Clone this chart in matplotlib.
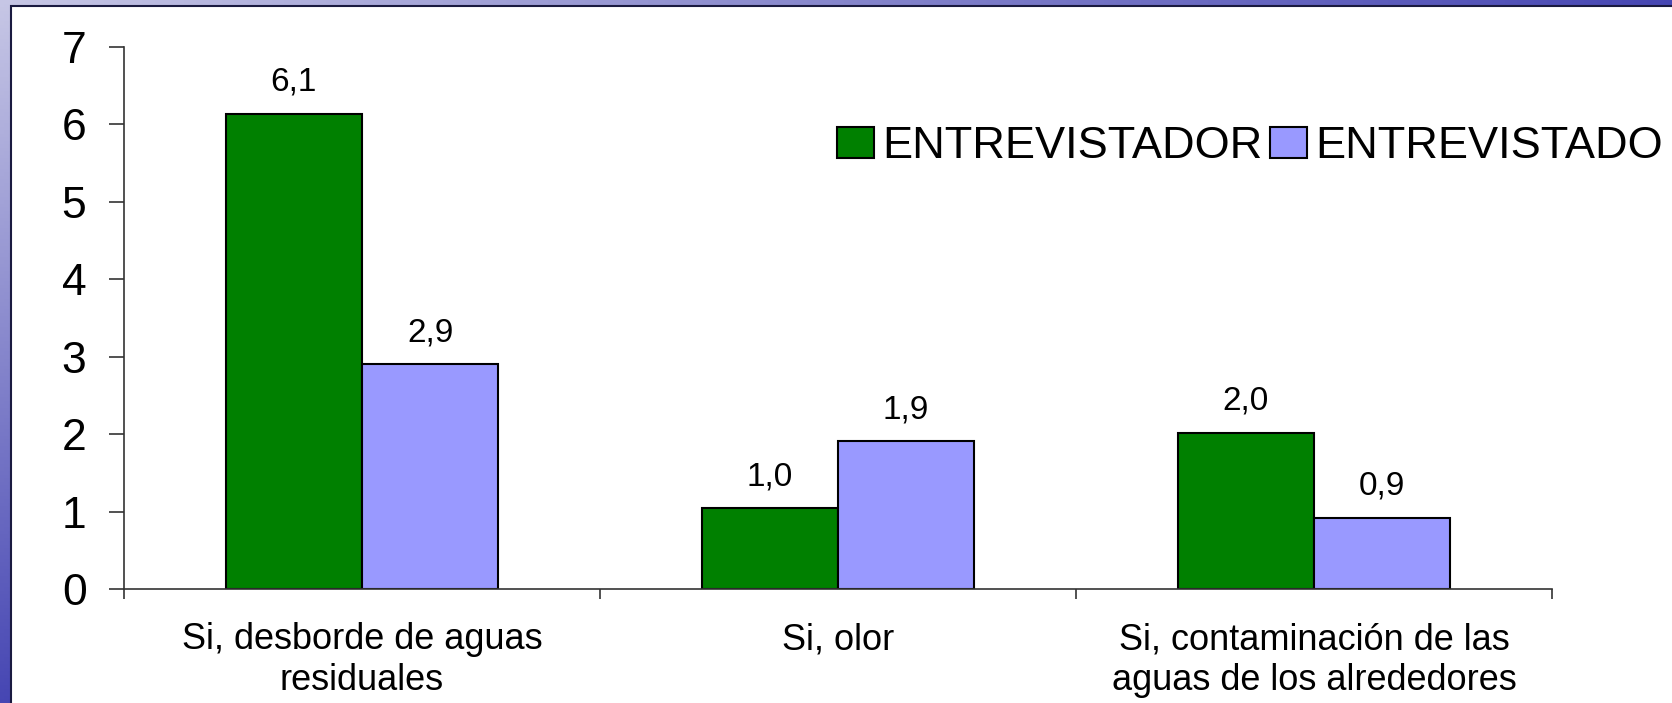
#!/usr/bin/env python3
# -*- coding: utf-8 -*-
"""Barras agrupadas: ENTREVISTADOR vs ENTREVISTADO."""
import numpy as np
import matplotlib
matplotlib.use('Agg')
import matplotlib.pyplot as plt
from matplotlib.patches import Rectangle

plt.rcParams['font.family'] = ['Liberation Sans', 'DejaVu Sans']

categorias = ['Si, desborde de aguas\nresiduales',
              'Si, olor',
              'Si, contaminación de las\naguas de los alrededores']
series = ['ENTREVISTADOR', 'ENTREVISTADO']
# alturas (las etiquetas van redondeadas a un decimal)
entrevistador = [6.14, 1.04, 2.02]
entrevistado = [2.90, 1.91, 0.92]
etq_entrevistador = ['6,1', '1,0', '2,0']
etq_entrevistado = ['2,9', '1,9', '0,9']
y_ticks = [0, 1, 2, 3, 4, 5, 6, 7]

COL_VERDE = '#008000'
COL_LILA = '#9999ff'

W, H = 1672, 703
fig = plt.figure(figsize=(W / 100, H / 100), dpi=100)

# ---- fondo azul degradado (plantilla de diapositiva) ----
bg = fig.add_axes([0, 0, 1, 1], zorder=-10)
gy, gx = np.mgrid[0:1:200j, 0:1:400j]
t = np.clip(0.9 * gy + 0.9 * gx, 0, 1)
c0 = np.array([0.78, 0.78, 0.90])
c1 = np.array([0.22, 0.22, 0.68])
img = c0[None, None, :] * (1 - t[..., None]) + c1[None, None, :] * t[..., None]
bg.imshow(img, aspect='auto', extent=[0, 1, 0, 1], origin='upper')
bg.set_axis_off()

fig.patches.append(Rectangle((11 / W, -0.01), 1.0, 1 - 6 / H + 0.01,
                             transform=fig.transFigure, facecolor='white',
                             edgecolor='#1a1a40', linewidth=1.5, zorder=-5))

# ---- grafico ----
ax = fig.add_axes([124 / W, 114 / H, (1552 - 124) / W, (589 - 47) / H])
ax.set_facecolor('none')

x = np.arange(len(categorias))
w = 0.286
b1 = ax.bar(x - w / 2, entrevistador, w, color=COL_VERDE, edgecolor='black',
            linewidth=1.5, label=series[0])
b2 = ax.bar(x + w / 2, entrevistado, w, color=COL_LILA, edgecolor='black',
            linewidth=1.5, label=series[1])

for bars, etqs in ((b1, etq_entrevistador), (b2, etq_entrevistado)):
    for r, s in zip(bars, etqs):
        ax.annotate(s, (r.get_x() + r.get_width() / 2, r.get_height()),
                    xytext=(0, 16.5), textcoords='offset points',
                    ha='center', va='baseline', fontsize=24)

ax.set_xlim(-0.5, len(categorias) - 0.5)
ax.set_ylim(0, 7)
ax.set_yticks(y_ticks)
ax.tick_params(axis='y', direction='out', length=11, width=1.2, pad=16,
               labelsize=32, color='#333333')

ax.set_xticks(np.arange(len(categorias) + 1) - 0.5)
ax.set_xticklabels([])
ax.tick_params(axis='x', which='major', direction='out', length=7, width=1.2,
               color='#333333')
ax.set_xticks(x, minor=True)
ax.set_xticklabels(categorias, minor=True, fontsize=26, linespacing=1.22)
ax.tick_params(axis='x', which='minor', length=0, pad=24)

for s in ('top', 'right'):
    ax.spines[s].set_visible(False)
for s in ('left', 'bottom'):
    ax.spines[s].set_color('#333333')
    ax.spines[s].set_linewidth(1.2)

fig.legend(handles=[b1, b2], labels=series, loc='center left',
           bbox_to_anchor=(837 / W, 1 - 147 / H), ncol=2, frameon=False,
           prop={'size': 32.5}, handlelength=0.82, handleheight=0.68,
           handletextpad=0.19, columnspacing=0.15, borderpad=0,
           borderaxespad=0)

plt.savefig('out.png', dpi=100)
plt.close()
